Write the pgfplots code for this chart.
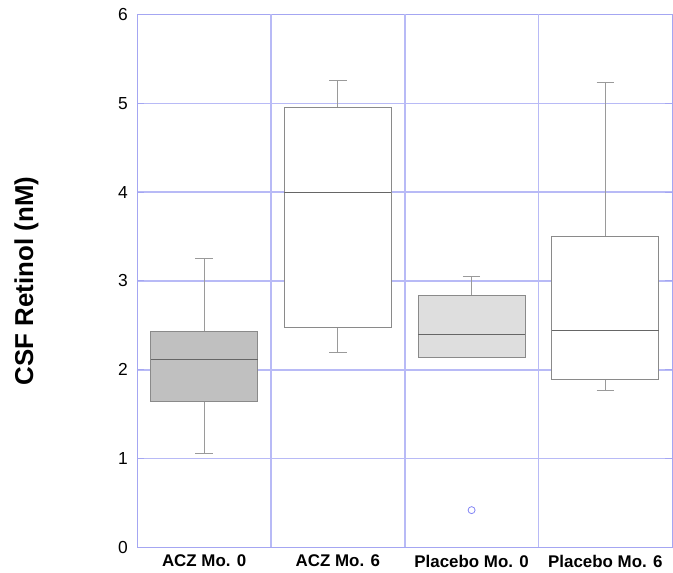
\documentclass[border=0pt]{standalone}
\usepackage{pgfplots}
\pgfplotsset{compat=1.18}
\usepgfplotslibrary{statistics}
\usepackage{fontspec}
\setmainfont{Liberation Sans}
\definecolor{gridblue}{HTML}{B8BAF6}
\definecolor{axisblue}{HTML}{A4A6F2}
\definecolor{boxedge}{HTML}{8A8A8A}
\definecolor{whisk}{HTML}{9A9A9A}
\definecolor{fillA}{HTML}{C0C0C0}
\definecolor{fillB}{HTML}{DEDEDE}
\pgfplotsset{every axis grid/.style={draw=gridblue, line width=1.6bp}}
\begin{document}
\begin{tikzpicture}
\begin{axis}[
    scale only axis,
    width=536bp, height=534bp,
    xmin=0.5, xmax=4.5,
    ymin=0, ymax=6,
    xtick={1,2,3,4},
    xticklabels={ACZ Mo. 0, ACZ Mo. 6, Placebo Mo. 0, Placebo Mo. 6},
    xticklabel style={font=\fontsize{17}{20}\selectfont\bfseries, yshift=-4bp},
    x tick style={draw=none},
    extra x ticks={1.5,2.5,3.5},
    extra x tick labels={},
    extra x tick style={grid=major, major tick length=0pt,
        grid style={draw=gridblue, line width=1.6bp}},
    ytick={0,1,2,3,4,5,6},
    ymajorgrids,
    yticklabel style={font=\fontsize{17.5}{20}\selectfont, xshift=-6bp},
    /pgf/number format/assume math mode=true,
    tick align=inside,
    major tick length=7bp,
    y tick style={axisblue, line width=1bp},
    grid style={draw=gridblue, line width=1.6bp},
    major grid style={draw=gridblue, line width=1.6bp},
    axis line style={axisblue, line width=1.2bp},
    ylabel={CSF Retinol (nM)},
    every axis y label/.style={at={(axis description cs:0,0.5)}, anchor=center,
        rotate=90, yshift=111bp,
        font=\fontsize{26}{30}\selectfont\bfseries},
    boxplot/draw direction=y,
    boxplot/box extend=0.8,
    boxplot/whisker extend=0.13,
]
\addplot[draw=boxedge, line width=1.1bp, fill=fillA,
    boxplot prepared={draw position=1,
        lower whisker=1.06, lower quartile=1.64, median=2.12,
        upper quartile=2.43, upper whisker=3.25},
    boxplot/every whisker/.style={draw=whisk},
    boxplot/every median/.style={draw=black!60}]
    coordinates {};
\addplot[draw=boxedge, line width=1.1bp, fill=white,
    boxplot prepared={draw position=2,
        lower whisker=2.19, lower quartile=2.48, median=4.00,
        upper quartile=4.95, upper whisker=5.26},
    boxplot/every whisker/.style={draw=whisk},
    boxplot/every median/.style={draw=black!60}]
    coordinates {};
\addplot[draw=boxedge, line width=1.1bp, fill=fillB,
    boxplot prepared={draw position=3,
        lower whisker=2.14, lower quartile=2.14, median=2.40,
        upper quartile=2.84, upper whisker=3.05},
    boxplot/every whisker/.style={draw=whisk},
    boxplot/every median/.style={draw=black!60}]
    coordinates {};
\addplot[draw=boxedge, line width=1.1bp, fill=white,
    boxplot prepared={draw position=4,
        lower whisker=1.77, lower quartile=1.89, median=2.44,
        upper quartile=3.50, upper whisker=5.23},
    boxplot/every whisker/.style={draw=whisk},
    boxplot/every median/.style={draw=black!60}]
    coordinates {};
% outlier
\addplot[only marks, mark=o, mark size=3.5bp, mark options={draw=axisblue!80!blue, line width=0.8bp}]
    coordinates {(3,0.42)};
\end{axis}
\path (current axis.south west) ++(-137.5bp,-25.5bp) rectangle ++(673bp,574bp);
\end{tikzpicture}
\end{document}
